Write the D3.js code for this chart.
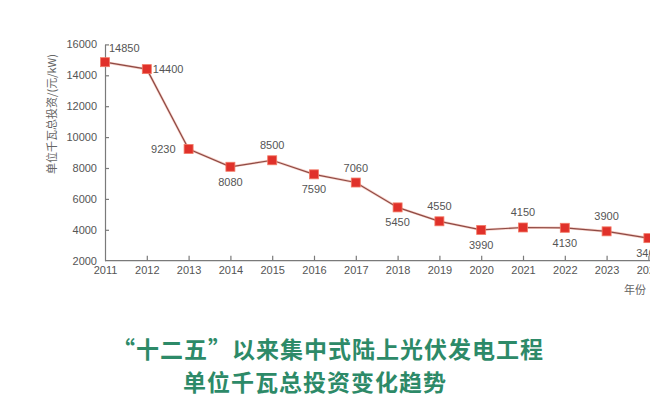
<!DOCTYPE html>
<html><head><meta charset="utf-8">
<script src="https://cdn.jsdelivr.net/npm/d3@7"></script>
<style>
html,body{margin:0;padding:0;background:#fff;}
svg{display:block;}
</style></head>
<body>
<svg id="c" width="650" height="397"></svg>
<script>
const years = [2011,2012,2013,2014,2015,2016,2017,2018,2019,2020,2021,2022,2023,2024];
const values = [14850,14400,9230,8080,8500,7590,7060,5450,4550,3990,4150,4130,3900,3460];
const labelSide = ["aboveRight","right","left","below","above","below","above","below","above","below","above","below","above","below"];
const yTicks = [2000,4000,6000,8000,10000,12000,14000,16000];
const yTitle = "单位千瓦总投资/(元/kW)";
const xTitle = "年份";
const titleLines = ["“十二五”以来集中式陆上光伏发电工程","单位千瓦总投资变化趋势"];

const svg = d3.select("#c");
const x = d3.scaleLinear().domain([2011,2024]).range([105,648.4]);
const y = d3.scaleLinear().domain([2000,16000]).range([260.7,44.4]);
const axisColor = "#7a7a7a";
const textColor = "#555";
const font = "'Liberation Sans', Arial, sans-serif";

// y axis
const yAxis = svg.append("g").attr("transform","translate(105,0)")
  .call(d3.axisLeft(y).tickValues(yTicks).tickSizeInner(-4).tickSizeOuter(0).tickPadding(8).tickFormat(d3.format("d")));
// x axis
const xAxis = svg.append("g").attr("transform","translate(0,260.7)")
  .call(d3.axisBottom(x).tickValues(years).tickSizeInner(-5).tickSizeOuter(0).tickPadding(6).tickFormat(d3.format("d")));
xAxis.select(".domain").attr("d","M105,0H670");
[yAxis,xAxis].forEach(a=>{
  a.selectAll("path,line").attr("stroke",axisColor).attr("stroke-width",1.2);
  a.selectAll("text").attr("fill",textColor).attr("font-family",font).attr("font-size",11);
});
xAxis.selectAll(".tick line").filter(d=>d===2011).remove();
yAxis.selectAll(".tick line").filter(d=>d===2000).remove();

// axis titles
svg.append("text").attr("transform","translate(56,114) rotate(-90)")
  .attr("text-anchor","middle").attr("font-family","'Noto Sans CJK SC', sans-serif")
  .attr("font-size",11).attr("fill","#666").text(yTitle);
svg.append("text").attr("x",624).attr("y",294).attr("font-family","'Noto Sans CJK SC', sans-serif")
  .attr("font-size",11).attr("fill","#666").text(xTitle);

// line
const line = d3.line().x((d,i)=>x(years[i])).y(d=>y(d));
svg.append("path").datum(values).attr("d",line).attr("fill","none")
  .attr("stroke","#f0a090").attr("stroke-width",2.6).attr("stroke-opacity",0.5);
svg.append("path").datum(values).attr("d",line).attr("fill","none")
  .attr("stroke","#8e4a44").attr("stroke-width",1.2);

// markers
svg.selectAll("rect.m").data(values).join("rect").attr("class","m")
  .attr("x",(d,i)=>x(years[i])-4.5).attr("y",d=>y(d)-4.5)
  .attr("width",9).attr("height",9).attr("fill","#e0312a")
  .attr("stroke","#f27a66").attr("stroke-width",0.8);

// value labels
svg.selectAll("text.v").data(values).join("text").attr("class","v")
  .attr("font-family",font).attr("font-size",11).attr("fill",textColor)
  .attr("x",(d,i)=>{
    const s=labelSide[i], px=x(years[i]);
    if(s==="aboveRight") return px+4;
    if(s==="right") return px+6;
    if(s==="left") return px-13;
    return px;
  })
  .attr("y",(d,i)=>{
    const s=labelSide[i], py=y(d);
    if(s==="aboveRight") return py-10;
    if(s==="right"||s==="left") return py+4;
    if(s==="above") return py-11;
    return py+19;
  })
  .attr("text-anchor",(d,i)=>{
    const s=labelSide[i];
    if(s==="aboveRight"||s==="right") return "start";
    if(s==="left") return "end";
    return "middle";
  })
  .text(d=>d);

// title
svg.selectAll("text.t").data(titleLines).join("text").attr("class","t")
  .attr("x",(d,i)=> i===0 ? 328 : 315).attr("y",(d,i)=> i===0 ? 358 : 391)
  .attr("text-anchor","middle").attr("font-family","'Noto Sans CJK SC', sans-serif")
  .attr("font-weight","bold").attr("font-size",23).attr("fill","#2d8a68")
  .attr("letter-spacing",1)
  .text(d=>d);
</script>
</body></html>
